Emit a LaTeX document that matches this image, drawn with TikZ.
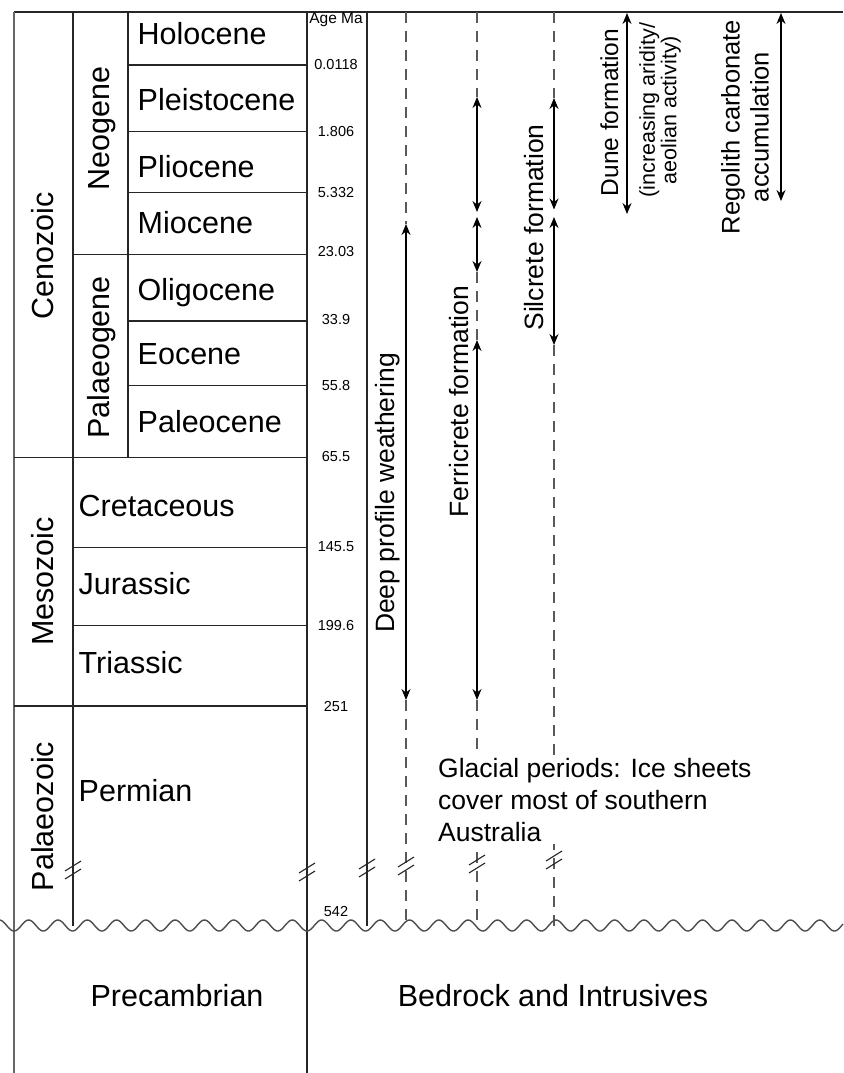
\documentclass[tikz,border=0pt]{standalone}
\usepackage{fontspec}
\setmainfont{Liberation Sans}
\usetikzlibrary{arrows.meta}
\begin{document}
\begin{tikzpicture}[x=1pt,y=-1pt,
  frame/.style={line width=1.3pt, draw=black!85},
  dashln/.style={line width=1.2pt, draw=black!65, dash pattern=on 11pt off 8pt},
  span/.style={line width=1.2pt, draw=black, {Stealth[length=11pt,width=9pt]}-{Stealth[length=11pt,width=9pt]}},
  brk/.style={line width=1.1pt, draw=black!85},
  big/.style={font=\fontsize{30.5}{35}\selectfont, inner sep=0pt},
  mid/.style={font=\fontsize{26.5}{32}\selectfont, inner sep=0pt},
  age/.style={font=\fontsize{14.5}{17}\selectfont, inner sep=0pt}
]
\useasboundingbox (0,0) rectangle (843,1073);
% frame verticals
\draw[frame] (14,12) -- (843,12);
\draw[frame, draw=black!60, line width=1.1pt] (14,12) -- (14,1073);
\draw[frame] (73,12) -- (73,926);
\draw[frame] (128,12) -- (128,457.7);
\draw[frame] (307,12) -- (307,1073);
\draw[frame] (367,12) -- (367,926);
% horizontals
\foreach \hy in {65,131.7,192.7,321,385.7} \draw[frame] (128,\hy) -- (307,\hy);
\foreach \hy in {254.3,547.3,625.7} \draw[frame] (73,\hy) -- (307,\hy);
\foreach \hy in {457.7,706} \draw[frame] (14,\hy) -- (307,\hy);
% era / period / epoch labels
\node[big, rotate=90, anchor=base] (cen) at (53,256) {Cenozoic};
\node[big, rotate=90, anchor=base] (mes) at (53,581.5) {Mesozoic};
\node[big, rotate=90, anchor=base] (pal) at (53,816.5) {Palaeozoic};
\node[big, rotate=90, anchor=base] (neo) at (109,128.5) {Neogene};
\node[big, rotate=90, anchor=base] (pg) at (109.5,357.5) {Palaeogene};
\node[big, anchor=base west] (hol) at (137.5,45) {Holocene};
\node[big, anchor=base west] (ple) at (137.5,110) {Pleistocene};
\node[big, anchor=base west] (pli) at (137.5,177) {Pliocene};
\node[big, anchor=base west] (mio) at (137.5,233) {Miocene};
\node[big, anchor=base west] (oli) at (137.5,300) {Oligocene};
\node[big, anchor=base west] (eoc) at (137.5,364) {Eocene};
\node[big, anchor=base west] (pal2) at (137.5,432.7) {Paleocene};
\node[big, anchor=base west] (cre) at (78.5,516.7) {Cretaceous};
\node[big, anchor=base west] (jur) at (78.5,594) {Jurassic};
\node[big, anchor=base west] (tri) at (78.5,673) {Triassic};
\node[big, anchor=base west] (per) at (78.5,801.7) {Permian};
% ages
\node[age, font=\fontsize{15.5}{17}\selectfont] (agema) at (336,20) {Age Ma};
\node[age] (a1) at (336,65) {0.0118};
\node[age] (a2) at (336,131.7) {1.806};
\node[age] (a3) at (336,192.5) {5.332};
\node[age] (a4) at (336,252) {23.03};
\node[age] (a5) at (336,320) {33.9};
\node[age] (a6) at (336,385.7) {55.8};
\node[age] (a7) at (336,456.7) {65.5};
\node[age] (a8) at (336,546.7) {145.5};
\node[age] (a9) at (336,625.7) {199.6};
\node[age] (a10) at (336,706) {251};
\node[age] (a11) at (336,911.7) {542};
% process columns: coordinates
\coordinate (d0) at (406,12);   \coordinate (d1) at (406,224); \coordinate (d2) at (406,700); \coordinate (d3) at (406,926);
\coordinate (f0) at (477,12);   \coordinate (f1) at (477,97);  \coordinate (f2) at (477,212);
\coordinate (f3) at (477,217);  \coordinate (f4) at (477,272); \coordinate (f5) at (477,340);
\coordinate (f6) at (477,700);  \coordinate (f7) at (477,926);
\coordinate (s0) at (554,12);   \coordinate (s1) at (554,98);  \coordinate (s2) at (554,209.5);
\coordinate (s3) at (554,217);  \coordinate (s4) at (554,345); \coordinate (s5) at (554,926);
\coordinate (u1) at (627,13);   \coordinate (u2) at (627,214);
\coordinate (r1) at (781,13);   \coordinate (r2) at (781,201);
\draw[dashln] (d0) -- (d1);  \draw[span] (d1) -- (d2);  \draw[dashln] (d2) -- (d3);
\draw[dashln] (f0) -- (f1);  \draw[span] (f1) -- (f2);  \draw[span] (f3) -- (f4);
\draw[dashln] (f4) -- (f5);  \draw[span] (f5) -- (f6);  \draw[dashln] (f6) -- (f7);
\draw[dashln] (s0) -- (s1);  \draw[span] (s1) -- (s2);  \draw[span] (s3) -- (s4);
\draw[dashln] (s4) -- (s5);
\draw[span] (u1) -- (u2);
\draw[span] (r1) -- (r2);
% process labels
\node[mid, rotate=90, anchor=base] (deep) at (394.5,493) {Deep profile weathering};
\node[mid, rotate=90, anchor=base] (ferr) at (468,401.7) {Ferricrete formation};
\node[mid, rotate=90, anchor=base] (silc) at (543,227.5) {Silcrete formation};
\node[font=\fontsize{24.5}{28}\selectfont, inner sep=0pt, rotate=90, anchor=base] (dune) at (618,112.5) {Dune formation};
\node[font=\fontsize{21.5}{21.5}\selectfont, inner sep=0pt, rotate=90, align=center] (dune2) at (660,110) {(increasing aridity/\\aeolian activity)};
\node[font=\fontsize{25.5}{29}\selectfont, inner sep=0pt, rotate=90, align=center] (rego) at (745,127) {Regolith carbonate\\accumulation};
\node[mid, fill=white, inner sep=2pt, anchor=north west, align=left] (glac) at (436,756) {Glacial periods: Ice sheets\\cover most of southern\\Australia};
% break marks
\foreach \bx/\by in {73/870, 307/872, 367/868, 406/866, 477/864, 554/860} {
  \draw[brk] (\bx-8,\by+1) -- (\bx+8,\by-9);
  \draw[brk] (\bx-8,\by+9) -- (\bx+8,\by-1);
}
% unconformity
\draw[frame, draw=black!70, line width=1.4pt] plot[domain=0:843, samples=700] (\x, {925.5+5.5*cos(12.2867*(\x-14))});
% bottom labels
\node[big, anchor=base] (pre) at (177,1006) {Precambrian};
\node[big, anchor=base] (bed) at (553,1006) {Bedrock and Intrusives};
\end{tikzpicture}
\end{document}
